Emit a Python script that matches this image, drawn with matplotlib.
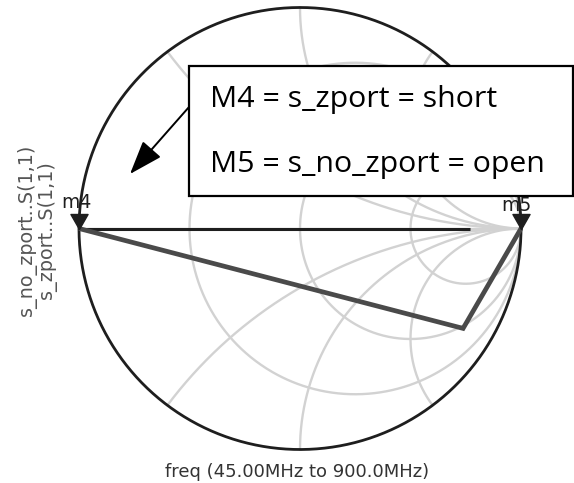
import numpy as np
import matplotlib
matplotlib.use("Agg")
import matplotlib.pyplot as plt
from matplotlib.patches import Rectangle
from matplotlib.path import Path

W, H = 574, 483

# Smith chart grid values
r_circles = [1 / 3, 1.0, 3.0]
x_arcs = [0.5, 1.0, 2.0, -0.5, -1.0, -2.0]

# Reflection coefficient traces (real, imaginary)
s_zport_re = [-1.0, 0.77]
s_zport_im = [0.0, 0.0]
s_no_zport_re = [-1.0, 0.738, 1.0]
s_no_zport_im = [0.0, -0.452, 0.0]

# Markers
marker_names = ["m4", "m5"]
marker_re = [-1.0, 1.0]
marker_im = [0.0, 0.0]

box_lines = ["M4 = s_zport = short", "M5 = s_no_zport = open"]
trace_names = ["s_no_zport..S(1,1)", "s_zport..S(1,1)"]
freq_label = "freq (45.00MHz to 900.0MHz)"

GRID = "#d2d2d2"
INK = "#1e1e1e"

fig = plt.figure(figsize=(W / 100, H / 100), dpi=100)
# chart centred at (300, 228.5) px with a radius of 221 px
R = 221.0
cx, cy = 300.0, 228.5
ax = fig.add_axes([0, 0, 1, 1])
ax.set_xlim(-cx / R, (W - cx) / R)
ax.set_ylim(-(H - cy) / R, cy / R)
ax.set_aspect("auto")
ax.axis("off")


def fx(px):
    return px / W


def fy(py):
    return 1 - py / H


# grid: constant resistance circles and constant reactance arcs
t = np.concatenate([[0.0], np.logspace(-3, 5, 1500)])
for r in r_circles:
    x = np.concatenate([-t[::-1], t])
    g = (r + 1j * x - 1) / (r + 1j * x + 1)
    ax.plot(g.real, g.imag, color=GRID, lw=1.7, zorder=1)
for xv in x_arcs:
    z = t + 1j * xv
    g = (z - 1) / (z + 1)
    ax.plot(g.real, g.imag, color=GRID, lw=1.7, zorder=1)
ax.plot([-1, 1], [0, 0], color=GRID, lw=1.7, zorder=1)

# outer boundary |Gamma| = 1
th = np.linspace(0, 2 * np.pi, 720)
ax.plot(np.cos(th), np.sin(th), color=INK, lw=2.0, zorder=2)

# traces
ax.plot(s_zport_re, s_zport_im, color=INK, lw=2.2, zorder=3,
        solid_capstyle="butt")
ax.plot(s_no_zport_re, s_no_zport_im, color="#4a4a4a", lw=3.4, zorder=4,
        solid_joinstyle="miter", solid_capstyle="butt")

# marker triangles with the tip on the point
tri = Path([(-0.57, 1.0), (0.57, 1.0), (0.0, 0.0), (-0.57, 1.0)],
           [Path.MOVETO, Path.LINETO, Path.LINETO, Path.CLOSEPOLY])
ax.plot(marker_re, marker_im, linestyle="none", marker=tri, ms=21.6,
        color=INK, mec=INK, zorder=5)
label_offsets = [(-1.5, 14.5), (-3.0, 12.5)]
for name, mr, mi, off in zip(marker_names, marker_re, marker_im, label_offsets):
    ax.annotate(name, xy=(mr, mi), xytext=off, textcoords="offset points",
                ha="center", va="baseline", fontsize=13.5, color=INK,
                zorder=6)

# annotation box
ax.add_patch(Rectangle((fx(189), fy(196)), fx(573) - fx(189), fy(66) - fy(196),
                       transform=ax.transAxes, facecolor="white",
                       edgecolor="black", lw=1.6, zorder=10))
for line, base in zip(box_lines, [107, 172]):
    ax.text(fx(210), fy(base), line, transform=ax.transAxes,
            fontfamily="Open Sans", fontsize=21.8, va="baseline",
            ha="left", color="black", zorder=11)
ax.annotate("", xy=(fx(130), fy(174)), xytext=(fx(189), fy(107)),
            xycoords="axes fraction", textcoords="axes fraction",
            arrowprops=dict(arrowstyle="-|>,head_length=1.4,head_width=0.5",
                            mutation_scale=15, lw=1.4, color="black",
                            shrinkA=0, shrinkB=0),
            zorder=11)

# axis texts
for name, px in zip(trace_names, [27, 47]):
    fig.text(fx(px), fy(230), name, rotation=90, ha="center", va="center",
             fontsize=13.8, color="#555555")
fig.text(fx(297), fy(477), freq_label, ha="center", va="baseline",
         fontsize=13, color="#333333")

fig.savefig("out.png", dpi=100)
